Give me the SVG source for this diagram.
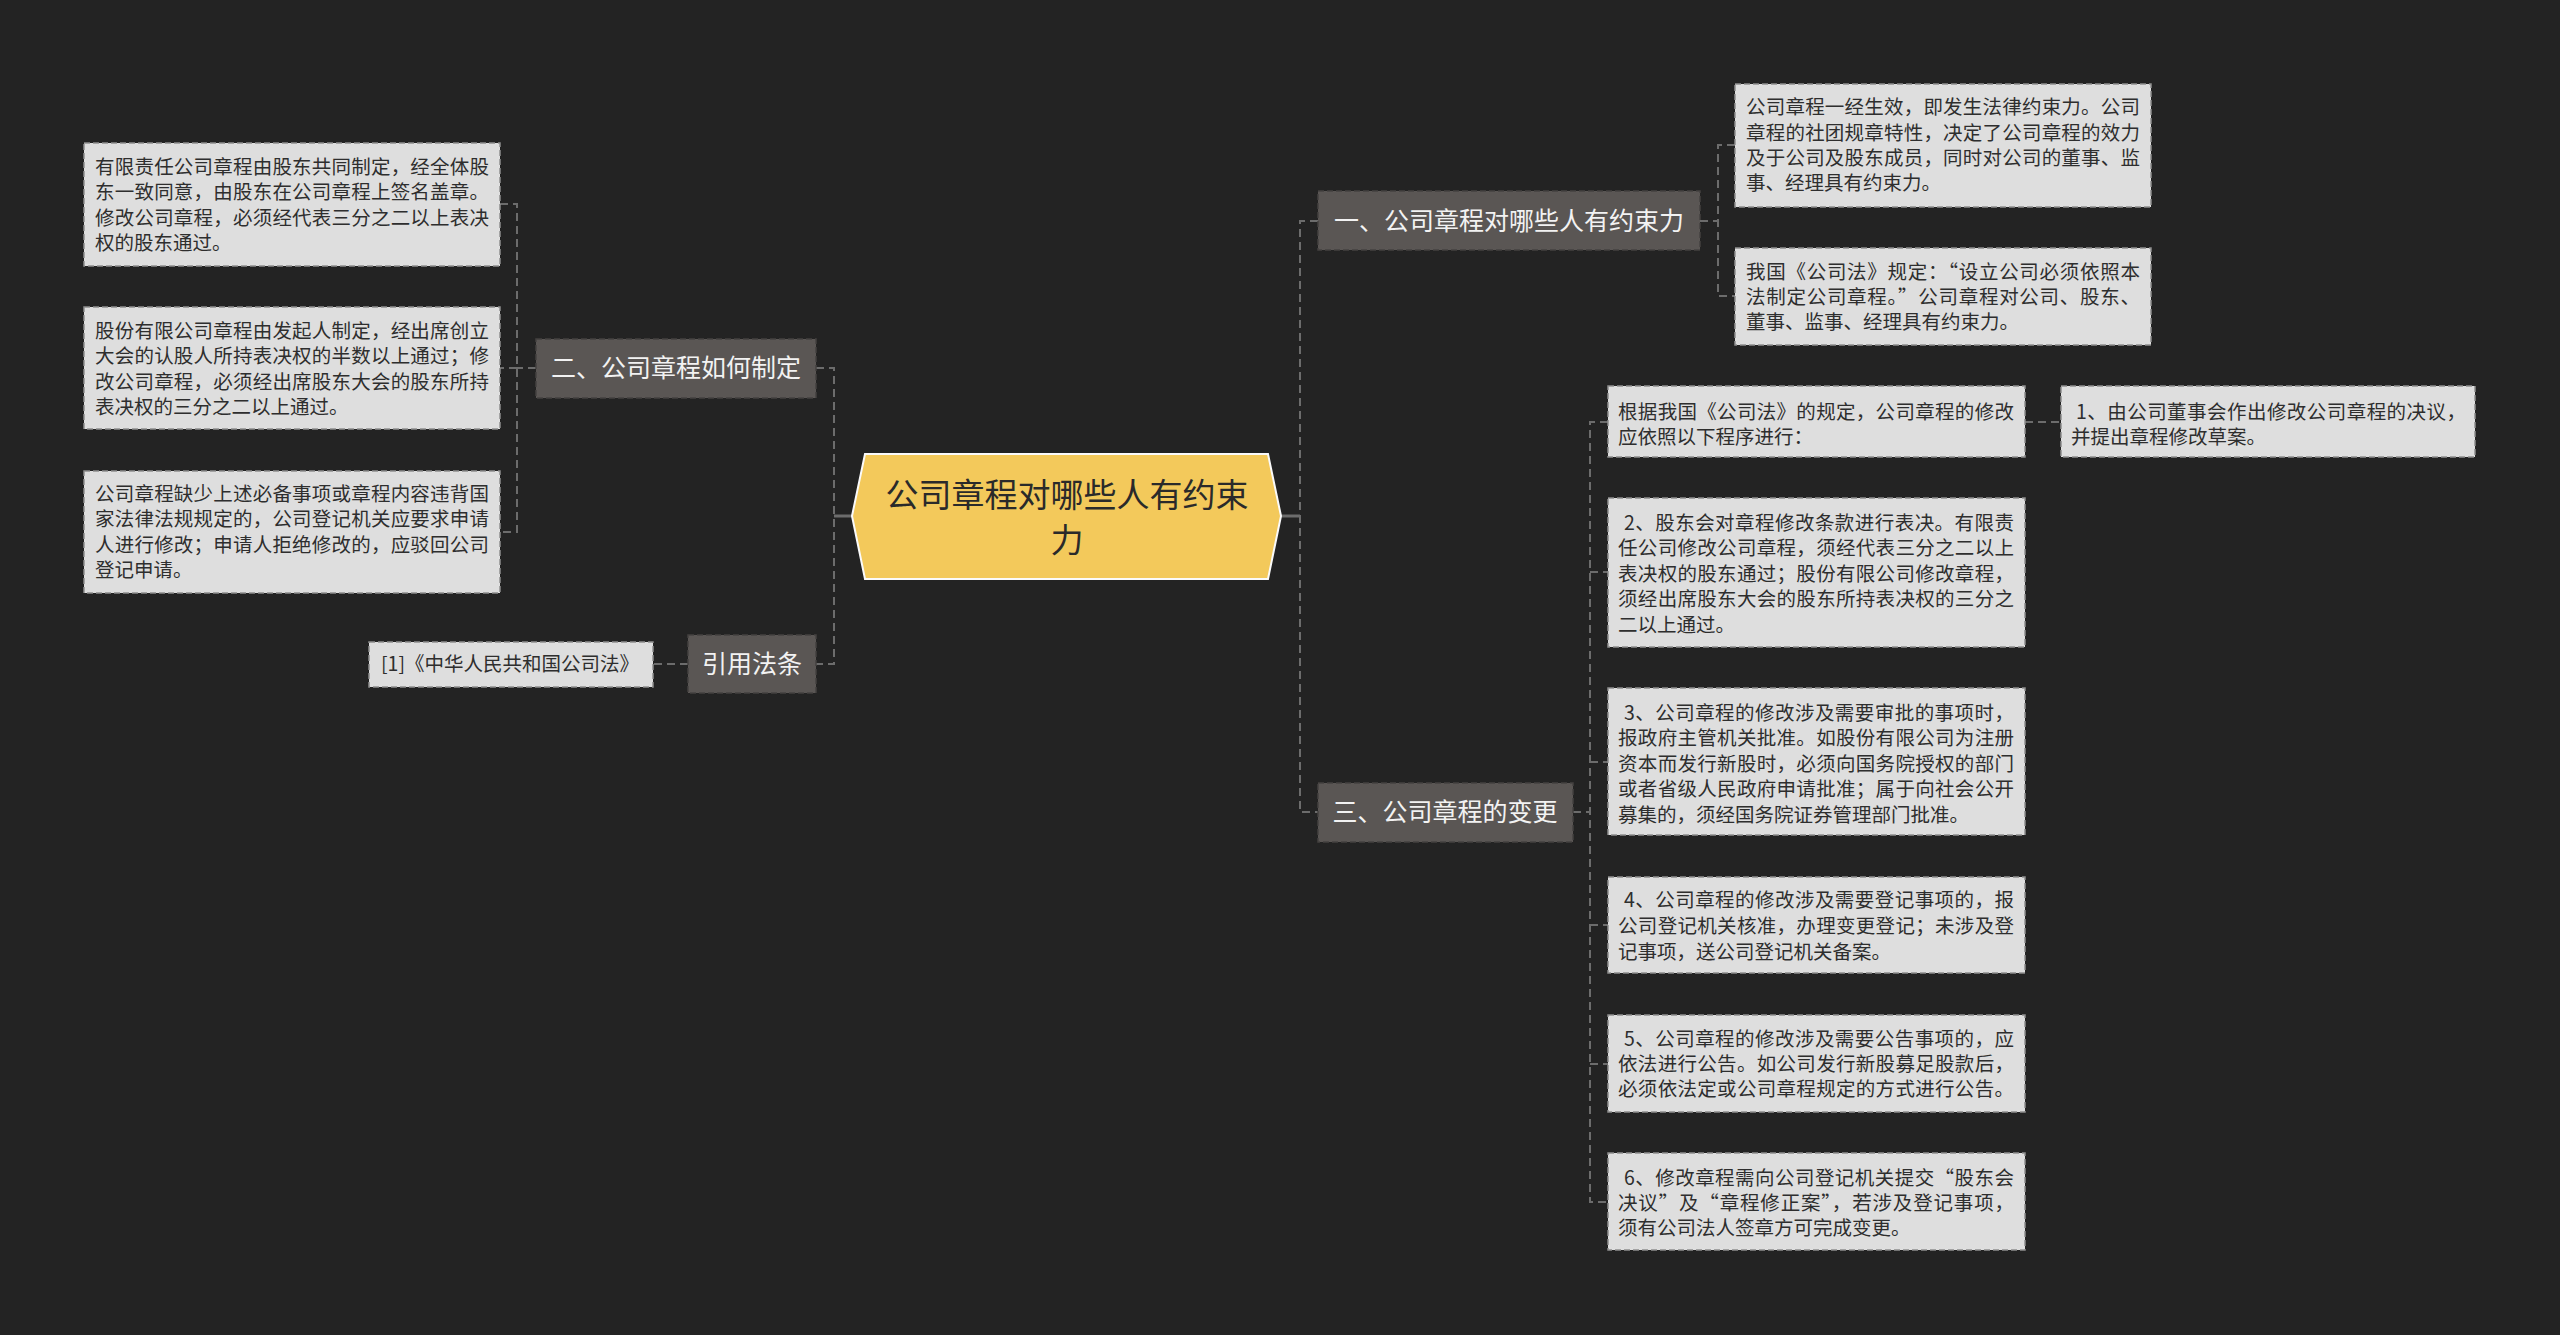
<svg xmlns="http://www.w3.org/2000/svg" width="2560" height="1335" viewBox="0 0 2560 1335">
<style>
.bg{fill:#232323}
.conn{fill:none;stroke:#6c6c6c;stroke-width:2;stroke-dasharray:8 5}
.solid{fill:none;stroke:#6c6c6c;stroke-width:3}
.leaf rect{fill:#dedede;stroke:#8f8f8f;stroke-width:1.5;stroke-dasharray:6 3}
.leaf text{font-family:"Noto Sans CJK SC","Noto Sans",sans-serif;font-size:19.5px;fill:#2e2e2e}
.branch rect{fill:#5a5654;stroke:#444140;stroke-width:1.5;stroke-dasharray:6 3}
.branch text{font-family:"Noto Sans CJK SC","Noto Sans",sans-serif;font-size:25px;fill:#f2f2f2;text-anchor:middle}
.root polygon{fill:#f3c95b;stroke:#fafafa;stroke-width:2}
.root text{font-family:"Noto Sans CJK SC","Noto Sans",sans-serif;font-size:33px;fill:#2a2a2a;text-anchor:middle}
</style>
<rect class="bg" x="0" y="0" width="2560" height="1335"/>

<g id="connectors">
  <path class="solid" d="M852,516 H834"/>
  <path class="solid" d="M1280,516 H1300"/>
  <path class="conn" d="M816,368 H834 V664 H816"/>
  <path class="conn" d="M536,368 H517"/>
  <path class="conn" d="M500,204 H517 V532 H500"/>
  <path class="conn" d="M517,368 H500"/>
  <path class="conn" d="M688,664 H653"/>
  <path class="conn" d="M1318,221 H1300 V812 H1318"/>
  <path class="conn" d="M1700,221 H1718"/>
  <path class="conn" d="M1735,145 H1718 V296 H1735"/>
  <path class="conn" d="M1573,812 H1590"/>
  <path class="conn" d="M1608,422 H1590 V1202 H1608"/>
  <path class="conn" d="M1590,572 H1608 M1590,762 H1608 M1590,925 H1608 M1590,1064 H1608"/>
  <path class="conn" d="M2025,422 H2061"/>
</g>

<g id="root" class="root">
  <polygon points="852,516 865,454 1268,454 1281,516 1268,579 865,579"/>
  <text x="1067" y="507">公司章程对哪些人有约束</text>
  <text x="1067" y="552">力</text>
</g>

<g id="b2" class="branch">
  <rect x="536" y="339" width="280" height="59"/>
  <text x="676" y="377">二、公司章程如何制定</text>
</g>
<g id="b4" class="branch">
  <rect x="688" y="635" width="128" height="58"/>
  <text x="752" y="673">引用法条</text>
</g>
<g id="b1" class="branch">
  <rect x="1318" y="191" width="382" height="59"/>
  <text x="1509" y="230">一、公司章程对哪些人有约束力</text>
</g>
<g id="b3" class="branch">
  <rect x="1318" y="783" width="255" height="59"/>
  <text x="1445" y="821">三、公司章程的变更</text>
</g>

<g id="l21" class="leaf">
  <rect x="84" y="143" width="416" height="123"/>
  <text x="95" y="174" textLength="394" lengthAdjust="spacing">有限责任公司章程由股东共同制定，经全体股</text>
  <text x="95" y="199" textLength="394" lengthAdjust="spacing">东一致同意，由股东在公司章程上签名盖章。</text>
  <text x="95" y="225" textLength="394" lengthAdjust="spacing">修改公司章程，必须经代表三分之二以上表决</text>
  <text x="95" y="250">权的股东通过。</text>
</g>
<g id="l22" class="leaf">
  <rect x="84" y="307" width="416" height="122"/>
  <text x="95" y="338" textLength="394" lengthAdjust="spacing">股份有限公司章程由发起人制定，经出席创立</text>
  <text x="95" y="363" textLength="394" lengthAdjust="spacing">大会的认股人所持表决权的半数以上通过；修</text>
  <text x="95" y="389" textLength="394" lengthAdjust="spacing">改公司章程，必须经出席股东大会的股东所持</text>
  <text x="95" y="414">表决权的三分之二以上通过。</text>
</g>
<g id="l23" class="leaf">
  <rect x="84" y="471" width="416" height="122"/>
  <text x="95" y="501" textLength="394" lengthAdjust="spacing">公司章程缺少上述必备事项或章程内容违背国</text>
  <text x="95" y="526" textLength="394" lengthAdjust="spacing">家法律法规规定的，公司登记机关应要求申请</text>
  <text x="95" y="552" textLength="394" lengthAdjust="spacing">人进行修改；申请人拒绝修改的，应驳回公司</text>
  <text x="95" y="577">登记申请。</text>
</g>
<g id="l41" class="leaf">
  <rect x="369" y="642" width="284" height="45"/>
  <text x="381" y="671">[1]《中华人民共和国公司法》</text>
</g>

<g id="l11" class="leaf">
  <rect x="1735" y="84" width="416" height="123"/>
  <text x="1746" y="114" textLength="394" lengthAdjust="spacing">公司章程一经生效，即发生法律约束力。公司</text>
  <text x="1746" y="140" textLength="394" lengthAdjust="spacing">章程的社团规章特性，决定了公司章程的效力</text>
  <text x="1746" y="165" textLength="394" lengthAdjust="spacing">及于公司及股东成员，同时对公司的董事、监</text>
  <text x="1746" y="190">事、经理具有约束力。</text>
</g>
<g id="l12" class="leaf">
  <rect x="1735" y="248" width="416" height="97"/>
  <text x="1746" y="279" textLength="394" lengthAdjust="spacing">我国《公司法》规定：“设立公司必须依照本</text>
  <text x="1746" y="304" textLength="394" lengthAdjust="spacing">法制定公司章程。”公司章程对公司、股东、</text>
  <text x="1746" y="329">董事、监事、经理具有约束力。</text>
</g>

<g id="l30" class="leaf">
  <rect x="1608" y="386" width="417" height="71"/>
  <text x="1618" y="419" textLength="396" lengthAdjust="spacing">根据我国《公司法》的规定，公司章程的修改</text>
  <text x="1618" y="444">应依照以下程序进行：</text>
</g>
<g id="l31" class="leaf">
  <rect x="2061" y="386" width="414" height="71"/>
  <text x="2076" y="419" textLength="390" lengthAdjust="spacing">1、由公司董事会作出修改公司章程的决议，</text>
  <text x="2071" y="444">并提出章程修改草案。</text>
</g>
<g id="l32" class="leaf">
  <rect x="1608" y="498" width="417" height="149"/>
  <text x="1624" y="530" textLength="390" lengthAdjust="spacing">2、股东会对章程修改条款进行表决。有限责</text>
  <text x="1618" y="555" textLength="396" lengthAdjust="spacing">任公司修改公司章程，须经代表三分之二以上</text>
  <text x="1618" y="581" textLength="396" lengthAdjust="spacing">表决权的股东通过；股份有限公司修改章程，</text>
  <text x="1618" y="606" textLength="396" lengthAdjust="spacing">须经出席股东大会的股东所持表决权的三分之</text>
  <text x="1618" y="632">二以上通过。</text>
</g>
<g id="l33" class="leaf">
  <rect x="1608" y="688" width="417" height="147"/>
  <text x="1624" y="720" textLength="390" lengthAdjust="spacing">3、公司章程的修改涉及需要审批的事项时，</text>
  <text x="1618" y="745" textLength="396" lengthAdjust="spacing">报政府主管机关批准。如股份有限公司为注册</text>
  <text x="1618" y="771" textLength="396" lengthAdjust="spacing">资本而发行新股时，必须向国务院授权的部门</text>
  <text x="1618" y="796" textLength="396" lengthAdjust="spacing">或者省级人民政府申请批准；属于向社会公开</text>
  <text x="1618" y="822">募集的，须经国务院证券管理部门批准。</text>
</g>
<g id="l34" class="leaf">
  <rect x="1608" y="877" width="417" height="96"/>
  <text x="1624" y="907" textLength="390" lengthAdjust="spacing">4、公司章程的修改涉及需要登记事项的，报</text>
  <text x="1618" y="933" textLength="396" lengthAdjust="spacing">公司登记机关核准，办理变更登记；未涉及登</text>
  <text x="1618" y="959">记事项，送公司登记机关备案。</text>
</g>
<g id="l35" class="leaf">
  <rect x="1608" y="1015" width="417" height="97"/>
  <text x="1624" y="1046" textLength="390" lengthAdjust="spacing">5、公司章程的修改涉及需要公告事项的，应</text>
  <text x="1618" y="1071" textLength="396" lengthAdjust="spacing">依法进行公告。如公司发行新股募足股款后，</text>
  <text x="1618" y="1096" textLength="396" lengthAdjust="spacing">必须依法定或公司章程规定的方式进行公告。</text>
</g>
<g id="l36" class="leaf">
  <rect x="1608" y="1153" width="417" height="97"/>
  <text x="1624" y="1185" textLength="390" lengthAdjust="spacing">6、修改章程需向公司登记机关提交“股东会</text>
  <text x="1618" y="1210" textLength="396" lengthAdjust="spacing">决议”及“章程修正案”，若涉及登记事项，</text>
  <text x="1618" y="1235">须有公司法人签章方可完成变更。</text>
</g>
</svg>
